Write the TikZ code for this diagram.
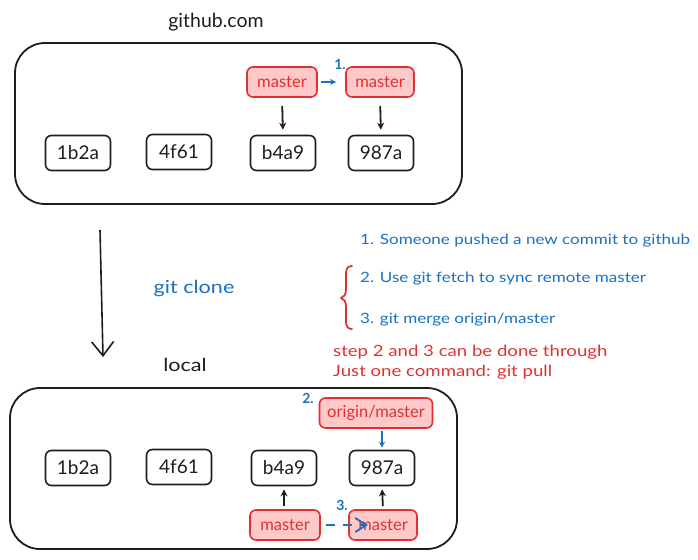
\documentclass[tikz,border=0pt]{standalone}
\usepackage{fontspec}
\setmainfont{Lato}
\newfontfamily\wide{Lato}[FakeStretch=1.2]
\usetikzlibrary{arrows.meta}
\definecolor{ink}{HTML}{1E1E1E}
\definecolor{rstroke}{HTML}{E03131}
\definecolor{rfill}{HTML}{FFC9C9}
\definecolor{bl}{HTML}{1971C2}
\tikzset{
  box/.style={draw=ink, line width=1.8pt, rounded corners=30pt, inner sep=0pt},
  commit/.style={draw=ink, line width=1.6pt, rounded corners=6pt, minimum width=65pt, minimum height=35pt, inner sep=0pt, font=\fontsize{19}{19}\selectfont, text=ink},
  branch/.style={draw=rstroke, fill=rfill, line width=1.6pt, rounded corners=6pt, minimum height=30pt, inner sep=0pt, font=\fontsize{16.5}{16.5}\selectfont, text=rstroke},
  lbl/.style={inner sep=0pt, font=\wide\fontsize{18}{18}\selectfont, text=ink},
  bluetxt/.style={inner sep=0pt, anchor=west, font=\wide\fontsize{14.2}{14.2}\selectfont, text=bl},
  redtxt/.style={inner sep=0pt, anchor=west, font=\wide\fontsize{15.5}{15.5}\selectfont, text=rstroke},
  num/.style={inner sep=0pt, font=\bfseries\fontsize{14}{14}\selectfont, text=bl},
  karr/.style={draw=ink, line width=1.8pt, -{Stealth[length=7pt,width=7pt]}},
  barr/.style={draw=bl, line width=1.8pt, -{Stealth[length=6pt,width=6pt]}},
}
\begin{document}
\begin{tikzpicture}[x=1pt,y=-1pt]
\useasboundingbox (0,0) rectangle (698,559);
% top container
\node[inner sep=0pt, font=\fontsize{19.5}{19.5}\selectfont, text=ink] (ghl) at (216,22) {github.com};
\node[box, minimum width=447pt, minimum height=161pt] (gh) at (238.5,123.5) {};
\node[commit] (t1) at (78,153) {1b2a};
\node[commit] (t2) at (179,152) {4f61};
\node[commit] (t3) at (283,153) {b4a9};
\node[commit] (t4) at (381,153) {987a};
\node[branch, minimum width=70pt] (tm1) at (282,82) {master};
\node[branch, minimum width=68pt] (tm2) at (380,82) {master};
\node[num] (n1) at (340,64) {1.};
\draw[barr, shorten <=3pt, shorten >=9pt] (tm1.east) -- (tm2.west);
\draw[karr, shorten <=8pt, shorten >=5pt] (tm1.south) -- (t3.north);
\draw[karr, shorten <=8pt, shorten >=5pt] (tm2.south) -- (t4.north);

% clone arrow
\coordinate (ca) at (100,230);
\coordinate (cb) at (103,357);
\draw[draw=ink, line width=1.6pt, -{Straight Barb[length=14pt,width=22pt]}] (ca) -- (cb);
\node[inner sep=0pt, font=\wide\fontsize{18}{18}\selectfont, text=bl] (gc) at (194,289) {git clone};
\node[lbl] (loc) at (185,365) {local};

% notes
\node[bluetxt] (s1) at (360,241) {1. Someone pushed a new commit to github};
\node[bluetxt] (s2) at (360,279) {2. Use git fetch to sync remote master};
\node[bluetxt] (s3) at (360,320) {3. git merge origin/master};
\coordinate (br1) at (352,266);
\coordinate (br2) at (352,329);
\draw[draw=rstroke, line width=1.8pt, line cap=round, line join=round]
  (br1) .. controls (346,266) and (346,270) .. (346,278)
  -- (346,289) .. controls (346,295) and (344,297) .. (341,298)
  .. controls (344,299) and (346,301) .. (346,307)
  -- (346,320) .. controls (346,327) and (348,329) .. (br2);
\node[redtxt] (r1) at (333,352) {step 2 and 3 can be done through};
\node[redtxt] (r2) at (333,372) {Just one command: git pull};

% bottom container
\node[box, minimum width=447pt, minimum height=161pt] (lc) at (233.5,468.5) {};
\node[commit] (b1) at (78,468) {1b2a};
\node[commit] (b2) at (179,467) {4f61};
\node[commit] (b3) at (284,468) {b4a9};
\node[commit] (b4) at (382,468) {987a};
\node[branch, minimum width=113pt] (om) at (376,413) {origin/master};
\node[num] (n2) at (308,398) {2.};
\node[branch, minimum width=70pt] (bm1) at (285,525) {master};
\node[branch, minimum width=68pt] (bm2) at (383,525) {master};
\node[num] (n3) at (342,505) {3.};
\draw[barr, shorten <=2pt, shorten >=2pt] (om.south -| b4) -- (b4.north);
\draw[karr, shorten <=3pt, shorten >=3pt] (bm1.north -| b3) -- (b3.south);
\draw[karr, shorten <=3pt, shorten >=3pt] (bm2.north) -- (b4.south);
\coordinate (d3) at (368,525);
\draw[draw=bl, line width=1.9pt, dashed, dash pattern=on 9pt off 8pt, shorten <=5pt, -{Straight Barb[length=11pt,width=14pt]}] (bm1.east) -- (d3);
\end{tikzpicture}
\end{document}
